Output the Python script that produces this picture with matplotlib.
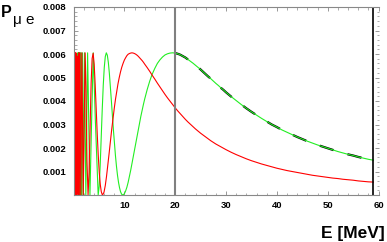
import numpy as np
import matplotlib
matplotlib.use("Agg")
import matplotlib.pyplot as plt
from matplotlib.ticker import FuncFormatter

# P_mue, in units of 1e-3, against E in MeV

# very low energies, where both curves oscillate too fast to resolve
E_dense = [0.05, 0.065, 0.08, 0.095, 0.11, 0.125, 0.14, 0.155, 0.17, 0.185,
           0.2, 0.215, 0.23, 0.245, 0.26, 0.275, 0.29, 0.305, 0.32, 0.335,
           0.35, 0.365, 0.38, 0.395, 0.41, 0.425, 0.44, 0.455, 0.47, 0.485,
           0.5, 0.515, 0.53, 0.545, 0.56, 0.575, 0.59, 0.605, 0.62, 0.635,
           0.65, 0.665, 0.68, 0.695, 0.71, 0.725, 0.74, 0.755, 0.77, 0.785,
           0.8, 0.815, 0.83, 0.845, 0.86, 0.875, 0.89]
green_dense = [1.55, 4.97, 4.89, 1.99, 3.19, 4.52, 4.74, 5.02, 0.68, 6.02,
               5.94, 1.33, 2.29, 5.15, 4.65, 4.02, 6.02, 1.55, 4.63, 0.02,
               3.25, 5.49, 5.91, 5.69, 4.33, 1.35, 0.25, 4.60, 4.71, 0.02,
               5.65, 1.23, 4.28, 1.85, 4.59, 0.77, 5.93, 0.13, 4.67, 3.76,
               0.24, 5.48, 3.54, 0.06, 4.42, 5.37, 0.81, 1.11, 5.38, 5.06,
               1.03, 0.45, 4.02, 6.04, 3.76, 0.53, 0.49]
red_dense = [5.56, 1.21, 5.23, 4.16, 0.44, 1.46, 0.33, 0.07, 3.90, 0.05,
             4.84, 4.82, 0.46, 5.31, 0.08, 1.49, 2.89, 2.36, 0.52, 0.61,
             5.10, 4.01, 0.36, 6.05, 0.04, 6.03, 0.03, 5.55, 1.92, 1.85,
             5.95, 0.89, 1.90, 6.04, 2.67, 0.08, 3.76, 6.00, 2.86, 0.03,
             1.83, 5.28, 5.73, 2.91, 0.29, 0.55, 3.16, 5.59, 5.85, 3.94,
             1.44, 0.05, 0.54, 2.45, 4.61, 5.91, 5.82]

# green curve
E_green_low = [0.925, 0.971, 1.022, 1.079, 1.142, 1.214, 1.294, 1.387, 1.494,
               1.618, 1.765, 1.942, 2.157, 2.427, 2.774, 3.236, 3.5, 3.883, 4.3]
green_low = [6.05, 0, 6.05, 0, 6.05, 0, 6.05, 0, 6.05,
             0, 6.05, 0, 6.05, 0, 6.05, 0, 2.57, 6.05, 3.17]
E_green_arch = [4.854, 5.054, 5.254, 5.454, 5.654, 5.854, 6.054, 6.254, 6.454,
                6.654, 6.854, 7.054, 7.254, 7.454, 7.654, 7.854, 8.054, 8.254,
                8.454, 8.654, 8.854, 9.054, 9.254, 9.454, 9.654, 9.708]
green_arch = [0.00, 0.37, 1.28, 2.46, 3.65, 4.67, 5.43, 5.89, 6.05,
              5.95, 5.64, 5.18, 4.62, 4.00, 3.37, 2.76, 2.19, 1.67,
              1.22, 0.84, 0.54, 0.31, 0.14, 0.04, 0.00, 0.00]
E_green_mid = [10, 10.25, 10.5, 10.75, 11, 11.25, 11.5, 11.75,
               12, 12.25, 12.5, 12.75, 13, 13.25, 13.5, 13.75]
green_mid = [0.05, 0.17, 0.33, 0.54, 0.79, 1.05, 1.34, 1.63,
             1.93, 2.23, 2.52, 2.81, 3.09, 3.35, 3.61, 3.85]

# red curve
E_red_low = [0.955, 1.042, 1.146, 1.273, 1.432, 1.637, 1.910, 2.292, 2.45, 2.65]
red_low = [0, 6.05, 0, 6.05, 0, 6.05, 0, 6.05, 4.62, 1.44]
E_red_arch = [2.865, 3.065, 3.265, 3.465, 3.665, 3.865, 4.065, 4.265,
              4.465, 4.665, 4.865, 5.065, 5.265, 5.465, 5.665, 5.730]
red_arch = [0.00, 0.96, 2.93, 4.75, 5.81, 6.03, 5.57, 4.70,
            3.65, 2.61, 1.70, 0.97, 0.45, 0.14, 0.01, 0.00]
E_red_mid = [6, 6.25, 6.5, 6.75, 7, 7.25, 7.5, 7.75, 8, 8.25, 8.5, 8.75,
             9, 9.25, 9.5, 9.75, 10, 10.25, 10.5, 10.75, 11, 11.25, 11.5, 11.75,
             12, 12.25, 12.5, 12.75, 13, 13.25, 13.5, 13.75]
red_mid = [0.12, 0.40, 0.80, 1.27, 1.76, 2.27, 2.76, 3.23, 3.66, 4.06, 4.41, 4.73,
           5.00, 5.24, 5.44, 5.60, 5.74, 5.84, 5.93, 5.99, 6.02, 6.04, 6.05, 6.04,
           6.02, 5.99, 5.95, 5.90, 5.84, 5.78, 5.72, 5.65]

# shared sample energies above 14 MeV
E_high = [14, 14.5, 15, 15.5, 16, 16.5, 17, 17.5, 18, 18.5, 19, 19.5,
          20, 20.5, 21, 21.5, 22, 22.5, 23, 23.5, 24, 24.5, 25, 25.5,
          26, 26.5, 27, 27.5, 28, 28.5, 29, 29.5,
          30, 31, 32, 33, 34, 35, 36, 37, 38, 39, 40, 41, 42, 43, 44,
          45, 46, 47, 48, 49, 50, 51, 52, 53, 54, 55, 56, 57, 58, 59]
green_high = [4.08, 4.49, 4.85, 5.15, 5.39, 5.60, 5.75, 5.87, 5.96, 6.01, 6.04, 6.05,
              6.04, 6.01, 5.97, 5.91, 5.85, 5.77, 5.69, 5.61, 5.52, 5.43, 5.34, 5.24,
              5.14, 5.04, 4.95, 4.85, 4.75, 4.66, 4.56, 4.47,
              4.37, 4.19, 4.02, 3.85, 3.69, 3.54, 3.40, 3.26, 3.13, 3.00, 2.89, 2.77,
              2.67, 2.57, 2.47, 2.38, 2.29, 2.21, 2.13, 2.06, 1.99, 1.92, 1.85, 1.79,
              1.73, 1.68, 1.62, 1.57, 1.52, 1.48]
red_high = [5.57, 5.42, 5.26, 5.09, 4.93, 4.76, 4.60, 4.44, 4.28, 4.13, 3.99, 3.85,
            3.71, 3.58, 3.46, 3.34, 3.22, 3.11, 3.01, 2.91, 2.81, 2.72, 2.63, 2.55,
            2.47, 2.39, 2.31, 2.24, 2.17, 2.11, 2.05, 1.99,
            1.93, 1.82, 1.72, 1.63, 1.54, 1.46, 1.39, 1.32, 1.26, 1.20, 1.14, 1.09,
            1.04, 1.00, 0.96, 0.92, 0.88, 0.84, 0.81, 0.78, 0.75, 0.72, 0.70, 0.67,
            0.65, 0.63, 0.60, 0.58, 0.56, 0.55]

E_marks = [20, 59]
xticks = [10, 20, 30, 40, 50, 60]
yticks = [0.001, 0.002, 0.003, 0.004, 0.005, 0.006, 0.007, 0.008]

Eg = np.array(E_dense + E_green_low + E_green_arch + E_green_mid + E_high)
Pg = np.array(green_dense + green_low + green_arch + green_mid + green_high) * 1e-3
Er = np.array(E_dense + E_red_low + E_red_arch + E_red_mid + E_high)
Pr = np.array(red_dense + red_low + red_arch + red_mid + red_high) * 1e-3
Eh = np.array(E_high)
Ph = np.array(green_high) * 1e-3
dash = Eh >= E_marks[0]

plt.rcParams['font.family'] = ['Liberation Sans', 'DejaVu Sans']
fig = plt.figure(figsize=(3.87, 2.42), dpi=100)
ax = fig.add_axes([73.5 / 387, 47 / 242, 305 / 387, 188 / 242])
ax.set_xlim(0, 60)
ax.set_ylim(0, 0.008)

ax.plot(Eh[dash], Ph[dash], color='black', lw=1.6, dashes=(6.5, 6.5))
ax.plot(Eg, Pg, color='#22ee22', lw=0.8)
ax.plot(Er, Pr, color='red', lw=0.8)
ax.axvline(E_marks[0], color='#808080', lw=1.5)
ax.axvline(E_marks[1], color='black', lw=1.2)

ax.set_xticks(xticks)
ax.set_xticks(np.arange(0, 61, 2), minor=True)
ax.set_yticks(yticks)
ax.set_yticks(np.arange(0, 0.00801, 0.0002), minor=True)
ax.yaxis.set_major_formatter(FuncFormatter(lambda v, p: "%.3f" % v))
ax.tick_params(which='both', direction='in', top=True, right=True,
               colors='#888888', labelcolor='black', labelsize=6.8)
ax.tick_params(which='major', length=3, width=0.6)
ax.tick_params(which='minor', length=1.8, width=0.5)
ax.tick_params(axis='y', pad=5)
ax.tick_params(axis='x', pad=4)
for lab in ax.get_xticklabels() + ax.get_yticklabels():
    lab.set_fontweight('bold')
for s in ['left', 'bottom', 'top']:
    ax.spines[s].set_color('#888888')
    ax.spines[s].set_linewidth(0.8)
ax.spines['right'].set_visible(False)

fig.text(1 / 387, 0.931, 'P', fontsize=11.5, fontweight='bold', va='baseline')
fig.text(12.7 / 387, 0.8996, 'μ e', fontsize=11, va='baseline')
fig.text(0.995, 0.0145, 'E [MeV]', fontsize=12.5, fontweight='bold',
         va='baseline', ha='right')

fig.savefig("out.png", dpi=100)
